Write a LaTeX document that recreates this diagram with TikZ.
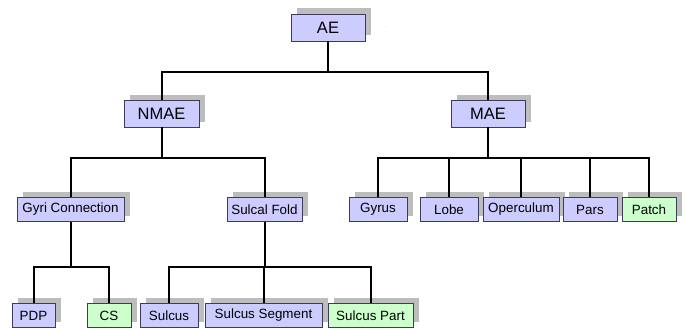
\documentclass[tikz,border=0pt]{standalone}
\usepackage{fontspec}
\setmainfont{Liberation Sans}
\usetikzlibrary{shadows}
\definecolor{conceptblue}{RGB}{204,204,255}
\definecolor{conceptgreen}{RGB}{204,255,204}
\definecolor{boxedge}{RGB}{60,60,90}

\begin{document}
\begin{tikzpicture}[
    x=1pt, y=-1pt,
    box/.style={draw=boxedge, fill=conceptblue, line width=0.8pt, inner sep=0pt,
        minimum width=#1, minimum height=24pt, font=\fontsize{13.4}{15}\selectfont,
        general shadow={fill=black!26, shadow xshift=6pt, shadow yshift=5.5pt}},
    bigbox/.style={box=#1, minimum height=27pt, font=\fontsize{16.5}{19}\selectfont},
    greenbox/.style={box=#1, fill=conceptgreen},
    link/.style={line width=2pt}
]
    \useasboundingbox (0,0) rectangle (685,329);

    % Level 0
    \node[bigbox=74pt] (AE) at (328,27.5) {AE};
    \node[font=\fontsize{4}{4}\selectfont, text=green!60!black!50] (AEnote) at (385,27) {...};

    % Level 1
    \node[bigbox=75pt] (NMAE) at (161.5,113.5) {NMAE};
    \node[bigbox=74pt] (MAE) at (488,113.5) {MAE};

    % Level 2
    \node[box=107pt] (GyriCon) at (70.5,209.5) {Gyri Connection};
    \node[box=75pt] (SulcalFold) at (264.5,209.5) {Sulcal Fold};
    \node[box=58pt] (Gyrus) at (378,209.5) {Gyrus};
    \node[box=58pt] (Lobe) at (449,209.5) {Lobe};
    \node[box=76pt] (Operculum) at (521,209.5) {Operculum};
    \node[box=54pt] (Pars) at (590,209.5) {Pars};
    \node[greenbox=54pt] (Patch) at (649,209.5) {Patch};

    % Level 3
    \node[box=43pt] (PDP) at (33.5,315.5) {PDP};
    \node[greenbox=44pt] (CS) at (109,315.5) {CS};
    \node[box=58pt] (Sulcus) at (169,315.5) {Sulcus};
    \node[box=117pt] (SulcusSeg) at (263.5,315.5) {Sulcus Segment};
    \node[greenbox=85pt] (SulcusPart) at (370.5,315.5) {Sulcus Part};

    % Links
    \draw[link] (AE.south) -- ++(0,31) -| (NMAE.north);
    \draw[link] (AE.south) -- ++(0,31) -| (MAE.north);
    \draw[link] (NMAE.south) -- ++(0,31) -| (GyriCon.north);
    \draw[link] (NMAE.south) -- ++(0,31) -| (SulcalFold.north);
    \foreach \c in {Gyrus,Lobe,Operculum,Pars,Patch}
        \draw[link] (MAE.south) -- ++(0,31) -| (\c.north);
    \draw[link] (GyriCon.south) -- ++(0,45) -| (PDP.north);
    \draw[link] (GyriCon.south) -- ++(0,45) -| (CS.north);
    \foreach \c in {Sulcus,SulcusSeg,SulcusPart}
        \draw[link] (SulcalFold.south) -- ++(0,45) -| (\c.north);
\end{tikzpicture}
\end{document}
